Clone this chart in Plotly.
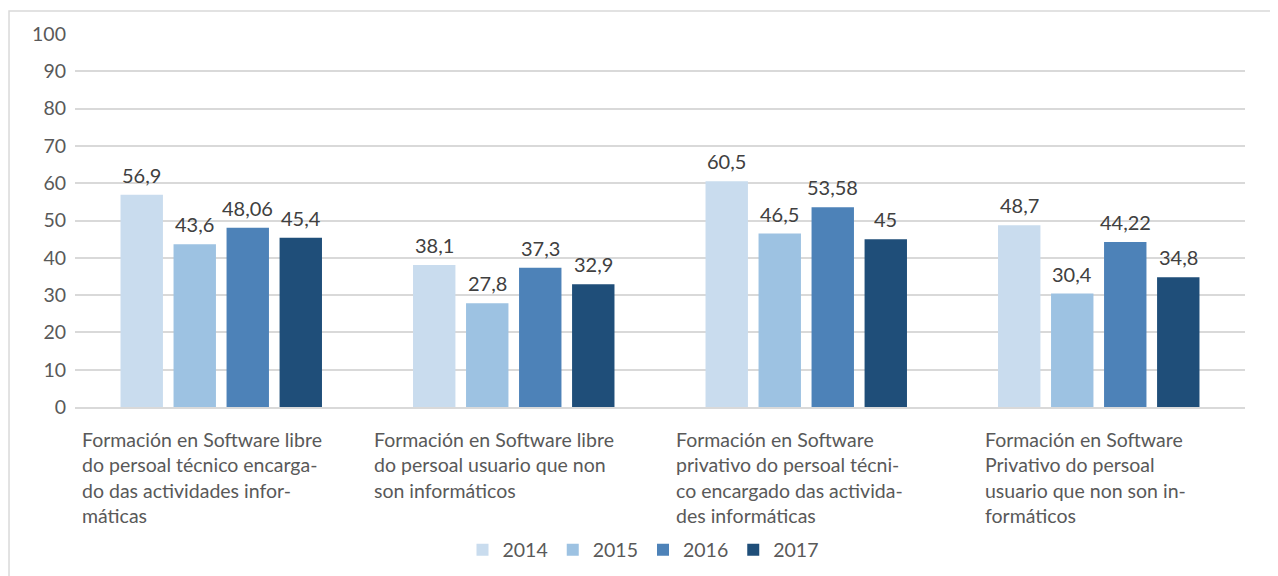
import plotly.graph_objects as go

categories = [
    "Formación en Software libre<br>do persoal técnico encarga-<br>do das actividades infor-<br>máticas",
    "Formación en Software libre<br>do persoal usuario que non<br>son informáticos",
    "Formación en Software<br>privativo do persoal técni-<br>co encargado das activida-<br>des informáticas",
    "Formación en Software<br>Privativo do persoal<br>usuario que non son in-<br>formáticos",
]
years = ["2014", "2015", "2016", "2017"]
values = {
    "2014": [56.9, 38.1, 60.5, 48.7],
    "2015": [43.6, 27.8, 46.5, 30.4],
    "2016": [48.06, 37.3, 53.58, 44.22],
    "2017": [45.4, 32.9, 45, 34.8],
}
labels = {
    "2014": ["56,9", "38,1", "60,5", "48,7"],
    "2015": ["43,6", "27,8", "46,5", "30,4"],
    "2016": ["48,06", "37,3", "53,58", "44,22"],
    "2017": ["45,4", "32,9", "45", "34,8"],
}
colors = {"2014": "#C9DCEE", "2015": "#9DC2E2", "2016": "#4D82B8", "2017": "#1F4E79"}
y_ticks = [0, 10, 20, 30, 40, 50, 60, 70, 80, 90, 100]

FONT = "Lato"
TXT = "#595959"
BARGAP = 0.275
GROUPGAP = 0.2

x_idx = list(range(len(categories)))
fig = go.Figure()
n = len(years)
slot = (1 - BARGAP) / n
for j, yr in enumerate(years):
    fig.add_trace(go.Bar(
        x=x_idx, y=values[yr], name=yr,
        marker=dict(color=colors[yr], line=dict(width=0)),
    ))
    off = (j - (n - 1) / 2) * slot
    for i, (v, t) in enumerate(zip(values[yr], labels[yr])):
        fig.add_annotation(
            x=i + off, y=v, xref="x", yref="y", text=t, showarrow=False,
            xanchor="center", yanchor="bottom", yshift=6,
            font=dict(family=FONT, size=20, color="#404040"),
        )

label_shift = [-19, -20, -17, -13]
for i, c in enumerate(categories):
    fig.add_annotation(
        x=i, y=0, xref="x", yref="y", text=c, showarrow=False,
        xanchor="center", yanchor="top", align="left", yshift=-19,
        xshift=label_shift[i],
        font=dict(family=FONT, size=19.5, color=TXT),
    )

W, H = 1270, 568
fig.update_layout(
    width=W, height=H,
    margin=dict(l=67, r=33, t=26, b=169, autoexpand=False),
    paper_bgcolor="white", plot_bgcolor="white",
    barmode="group", bargap=BARGAP, bargroupgap=GROUPGAP,
    font=dict(family=FONT, size=19, color=TXT),
    showlegend=True,
    legend=dict(orientation="h", x=0.5, xanchor="center", xref="container",
                y=(H - 542) / H, yanchor="middle", yref="container",
                font=dict(family=FONT, size=19.5, color=TXT), traceorder="normal",
                itemwidth=30),
    xaxis=dict(range=[-0.5, 3.5], showticklabels=False, showgrid=False,
               zeroline=False, showline=True, linecolor="#D9D9D9", linewidth=1.5,
               ticks="", automargin=False),
    yaxis=dict(range=[0, 100], tickvals=y_ticks, showgrid=True, gridcolor="#D9D9D9",
               gridwidth=1.5, zeroline=False, showline=False, ticks="",
               automargin=False,
               ticklabelstandoff=8, tickfont=dict(family=FONT, size=19.5, color=TXT)),
    shapes=[dict(type="rect", xref="paper", yref="paper",
                 x0=-0.0564, x1=1.04, y0=-0.6, y1=1.0617,
                 line=dict(color="#D9D9D9", width=1.5), fillcolor="rgba(0,0,0,0)",
                 layer="below")],
)

fig.write_html("out.html")
